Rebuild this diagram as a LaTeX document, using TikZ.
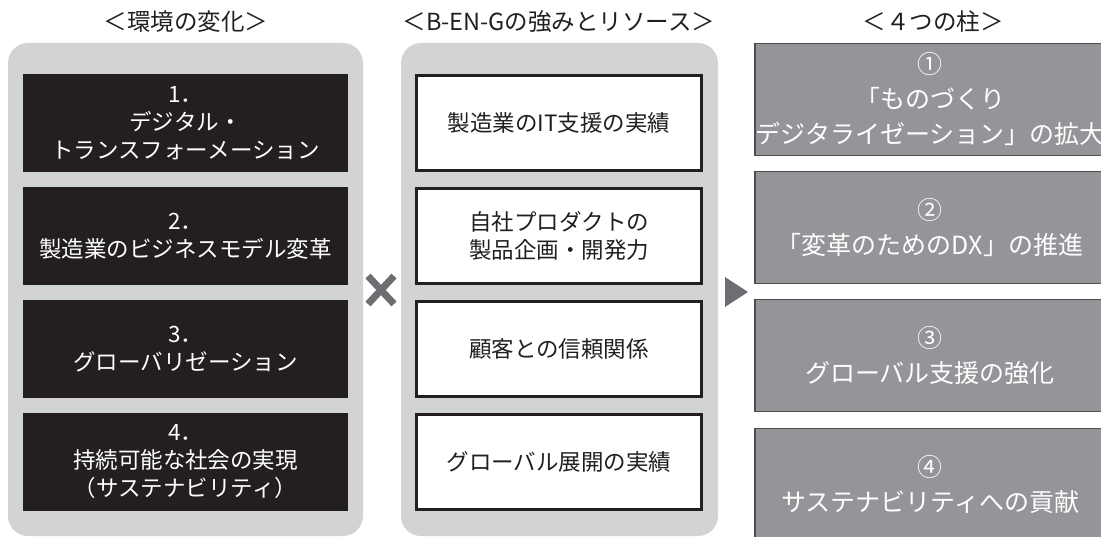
\documentclass[tikz,border=0pt]{standalone}
\usepackage{fontspec}
\setmainfont{Noto Sans CJK JP}
\begin{document}
\begin{tikzpicture}[x=1pt,y=-1pt,
  blk/.style={fill=boxblack, minimum width=325pt, minimum height=98pt, inner sep=0pt, text=white, align=center, font=\fontsize{22.5}{28}\selectfont},
  wht/.style={draw=boxblack, line width=2.5pt, fill=white, minimum width=285pt, minimum height=95pt, inner sep=0pt, text=boxblack, align=center, font=\fontsize{22.5}{28}\selectfont},
  pil/.style={draw=pilborder, line width=1.8pt, fill=pilgray, minimum width=350pt, minimum height=112pt, inner sep=0pt, text=white, align=center, font=\fontsize{25}{35}\selectfont},
  ttl/.style={text=boxblack, font=\fontsize{23.5}{28}\selectfont, inner sep=0pt},
  panel/.style={fill=panelgray, rounded corners=20pt}]
\definecolor{panelgray}{HTML}{D1D3D4}
\definecolor{boxblack}{HTML}{231F20}
\definecolor{pilgray}{HTML}{939598}
\definecolor{pilborder}{HTML}{4D4D4F}
\definecolor{symgray}{HTML}{6D6E71}
\useasboundingbox (0,0) rectangle (1101,537);
% panels
\fill[panel] (8,43) rectangle (363,536);
\fill[panel] (401,43) rectangle (718,536);
% titles
\node[ttl] (t1) at (186,22) {＜環境の変化＞};
\node[ttl] (t2) at (559,22) {＜B-EN-Gの強みとリソース＞};
\node[ttl] (t3) at (933,22) {＜４つの柱＞};
% left column
\node[blk] (e1) at (185.5,123) {1．\\デジタル・\\トランスフォーメーション};
\node[blk] (e2) at (185.5,236) {2．\\製造業のビジネスモデル変革};
\node[blk] (e3) at (185.5,349) {3．\\グローバリゼーション};
\node[blk] (e4) at (185.5,462) {4．\\持続可能な社会の実現\\（サステナビリティ）};
% middle column
\node[wht] (s1) at (559,123) {製造業のIT支援の実績};
\node[wht] (s2) at (559,236) {自社プロダクトの\\製品企画・開発力};
\node[wht] (s3) at (559,349) {顧客との信頼関係};
\node[wht] (s4) at (559,462) {グローバル展開の実績};
% right column
\node[pil] (p1) at (930,99.5) {①\\「ものづくり\\デジタライゼーション」の拡大};
\node[pil] (p2) at (930,227.5) {②\\「変革のためのDX」の推進};
\node[pil] (p3) at (930,355.5) {③\\グローバル支援の強化};
\node[pil] (p4) at (930,484.5) {④\\サステナビリティへの貢献};
% symbols
\coordinate (xc) at (381,290);
\draw[symgray, line width=7pt] ([shift={(-13,-14)}]xc) -- ([shift={(13,14)}]xc);
\draw[symgray, line width=7pt] ([shift={(-13,14)}]xc) -- ([shift={(13,-14)}]xc);
\coordinate (tc) at (736,292);
\fill[symgray] ([shift={(-11,-15)}]tc) -- ([shift={(12,0)}]tc) -- ([shift={(-11,15)}]tc) -- cycle;
\end{tikzpicture}
\end{document}
